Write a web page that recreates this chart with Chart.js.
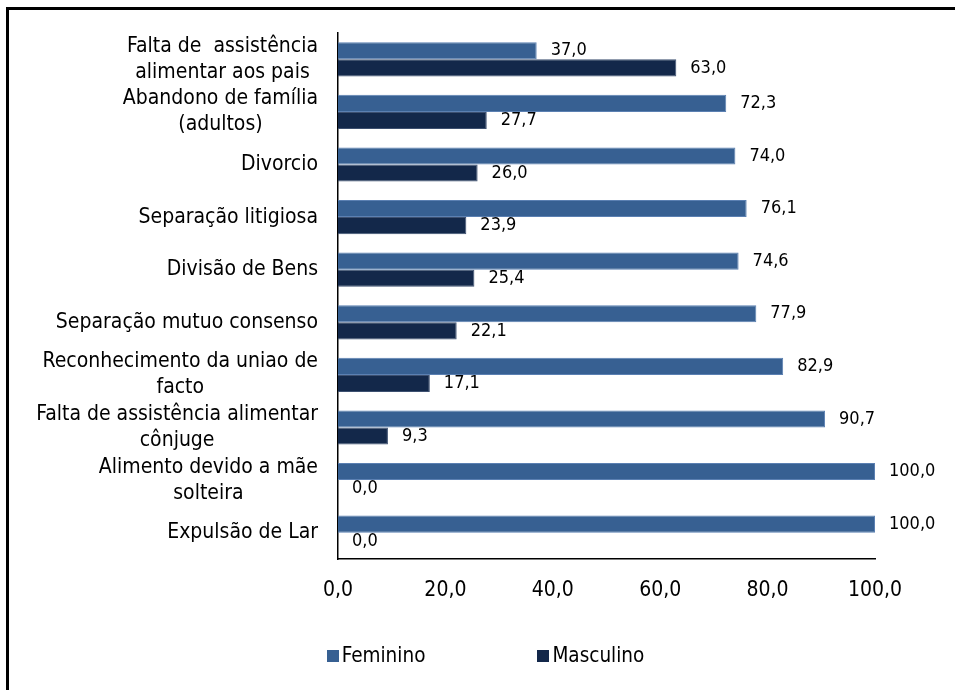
<!DOCTYPE html>
<html>
<head>
<meta charset="utf-8">
<script src="https://cdn.jsdelivr.net/npm/chart.js@4"></script>
<style>
  html, body { margin: 0; padding: 0; background: #fff; overflow: hidden; }
  #wrap { position: relative; width: 955px; height: 690px; }
  #myChart { position: absolute; left: 0; top: 0; }
  #frame { position: absolute; left: 6px; top: 7px; width: 1200px; height: 1200px;
           border-left: 3px solid #000; border-top: 3px solid #000; pointer-events: none; }
  #legend { position: absolute; left: 0; width: 955px; top: 643px; text-align: center; padding-left: 16px;
            box-sizing: border-box;
            font-family: 'DejaVu Sans Condensed', 'DejaVu Sans', sans-serif; font-size: 20.5px; color: #000; }
  #legend span.item { display: inline-block; margin: 0 56px; }
  #legend i { display: inline-block; width: 12px; height: 12px; margin-right: 3px; vertical-align: 0px; }
</style>
</head>
<body>
<div id="wrap">
  <canvas id="myChart" width="955" height="690"></canvas>
  <div id="frame"></div>
  <div id="legend"></div>
</div>
<script>
const categories = [
    ['Falta de  assistência', 'alimentar aos pais'],
    ['Abandono de família', '(adultos)'],
    ['Divorcio'],
    ['Separação litigiosa'],
    ['Divisão de Bens'],
    ['Separação mutuo consenso'],
    ['Reconhecimento da uniao de', 'facto'],
    ['Falta de assistência alimentar', 'cônjuge'],
    ['Alimento devido a mãe', 'solteira'],
    ['Expulsão de Lar']
];
const feminino = [37.0, 72.3, 74.0, 76.1, 74.6, 77.9, 82.9, 90.7, 100.0, 100.0];
const masculino = [63.0, 27.7, 26.0, 23.9, 25.4, 22.1, 17.1, 9.3, 0.0, 0.0];
const xTicks = [0, 20, 40, 60, 80, 100];

const FONT = "'DejaVu Sans Condensed', 'DejaVu Sans', sans-serif";
const fmt = v => v.toFixed(1).replace('.', ',');

// category labels: block right aligned, lines centered inside the block (like Excel)
const catLabels = {
    id: 'catLabels',
    afterDraw(chart) {
        const c = chart.ctx;
        const y = chart.scales.y;
        c.save();
        c.font = '21px ' + FONT;
        c.fillStyle = '#000';
        c.textBaseline = 'middle';
        c.textAlign = 'center';
        const right = chart.chartArea.left - 20;
        const lh = 26;
        categories.forEach((lines, i) => {
            const w = Math.max(...lines.map(l => c.measureText(l).width));
            const cx = right - w / 2;
            const cy = y.getPixelForValue(i);
            lines.forEach((l, k) => {
                c.fillText(l, cx, cy + (k - (lines.length - 1) / 2) * lh);
            });
        });
        c.restore();
    }
};

// value labels at the end of every bar
const valueLabels = {
    id: 'valueLabels',
    afterDatasetsDraw(chart) {
        const c = chart.ctx;
        c.save();
        c.font = '18px ' + FONT;
        c.fillStyle = '#000';
        c.textBaseline = 'middle';
        c.textAlign = 'left';
        chart.data.datasets.forEach((ds, di) => {
            chart.getDatasetMeta(di).data.forEach((bar, i) => {
                c.fillText(fmt(ds.data[i]), bar.x + 14, bar.y);
            });
        });
        c.restore();
    }
};

const ctx = document.getElementById('myChart');
const myChart = new Chart(ctx, {
    type: 'bar',
    data: {
        labels: categories.map(l => l.join(' ')),
        datasets: [{
            label: 'Feminino',
            data: feminino,
            backgroundColor: '#376092',
            borderColor: '#5b80b2',
            borderWidth: 1
        }, {
            label: 'Masculino',
            data: masculino,
            backgroundColor: '#13284a',
            borderColor: '#3d5070',
            borderWidth: 1
        }]
    },
    options: {
        indexAxis: 'y',
        responsive: false,
        animation: false,
        maintainAspectRatio: false,
        layout: { padding: { top: 33, right: 80, left: 0, bottom: 0 } },
        datasets: { bar: { categoryPercentage: 0.65, barPercentage: 1.0 } },
        plugins: {
            legend: { display: false },
            tooltip: { enabled: false }
        },
        scales: {
            x: {
                min: 0,
                max: 100,
                afterBuildTicks: s => { s.ticks = xTicks.map(v => ({ value: v })); },
                afterFit: s => { s.height = 131; },
                grid: { display: false },
                border: { display: true, color: '#000', width: 1.5 },
                ticks: {
                    padding: 11,
                    color: '#000',
                    font: { family: FONT, size: 21 },
                    callback: v => fmt(v)
                }
            },
            y: {
                afterFit: s => { s.width = 338; },
                grid: { display: false },
                border: { display: true, color: '#000', width: 1.5 },
                ticks: { display: false }
            }
        }
    },
    plugins: [catLabels, valueLabels]
});

// legend
const legend = document.getElementById('legend');
myChart.data.datasets.forEach(ds => {
    const s = document.createElement('span');
    s.className = 'item';
    const box = document.createElement('i');
    box.style.background = ds.backgroundColor;
    s.appendChild(box);
    s.appendChild(document.createTextNode(ds.label));
    legend.appendChild(s);
});
</script>
</body>
</html>
